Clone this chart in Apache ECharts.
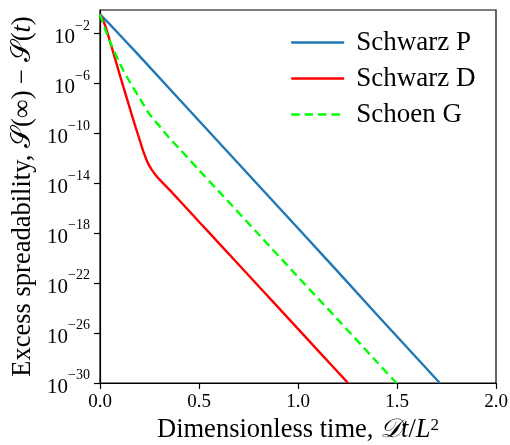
<!DOCTYPE html>
<html>
<head>
<meta charset="utf-8">
<script src="https://cdn.jsdelivr.net/npm/echarts@6/dist/echarts.min.js"></script>
<style>
  html, body { margin: 0; padding: 0; background: #fff; }
  #chart { width: 510px; height: 445px; }
</style>
</head>
<body>
<div id="chart"></div>
<script>
// Excess spreadability decay for three triply periodic minimal surfaces.
// Each curve is stored as [time, log10(value)] pairs.
const seriesNames = ['Schwarz P', 'Schwarz D', 'Schoen G'];

const schwarzP = [
  [0, -0.45], [0.05, -1.25], [0.1, -2.1], [0.2, -3.8], [0.4, -7.25],
  [0.6, -10.7], [0.8, -14.15], [1.0, -17.6], [1.2, -21.05], [1.4, -24.55],
  [1.6, -28.0], [1.716, -30.0]
];

const schwarzD = [
  [0, -0.45], [0.025, -1.3], [0.05, -2.6], [0.1, -5.3], [0.15, -7.95],
  [0.18, -9.5], [0.2, -10.5], [0.22, -11.5], [0.24, -12.3], [0.26, -12.88],
  [0.28, -13.3], [0.3, -13.68], [0.35, -14.5], [0.4, -15.35], [0.5, -17.07],
  [0.6, -18.79], [0.8, -22.22], [1.0, -25.66], [1.2, -29.1], [1.2525, -30.0]
];

const schoenG = [
  [0, -0.45], [0.025, -1.6], [0.05, -2.6], [0.1, -4.4], [0.15, -5.85],
  [0.2, -7.15], [0.25, -8.45], [0.3, -9.4], [0.35, -10.35], [0.4, -11.2],
  [0.5, -12.93], [0.6, -14.64], [0.8, -18.06], [1.0, -21.5], [1.2, -24.9],
  [1.4, -28.34], [1.497, -30.0]
];

const xTicks = [0, 0.5, 1.0, 1.5, 2.0];
const yTickExponents = [-30, -26, -22, -18, -14, -10, -6, -2];

const colors = ['#1f77b4', '#ff0000', '#00ff00'];
const FONT = '"Liberation Serif", "DejaVu Serif", serif';
const LINE_W = 2.4;

const toPoints = arr => arr.map(p => [p[0], Math.pow(10, p[1])]);
const yTickValues = yTickExponents.map(e => Math.pow(10, e));

const chart = echarts.init(document.getElementById('chart'), null, { renderer: 'canvas' });

const axisBlack = { lineStyle: { color: '#000', width: 1.2 } };

chart.setOption({
  animation: false,
  backgroundColor: '#fff',
  textStyle: { fontFamily: FONT },
  grid: {
    left: 100, right: 14, top: 10, bottom: 62,
    outerBoundsMode: 'none', containLabel: false,
    show: true, borderColor: '#000', borderWidth: 1.2, backgroundColor: 'transparent'
  },
  legend: {
    data: seriesNames,
    orient: 'vertical',
    left: 285, top: 24,
    itemWidth: 53, itemHeight: 14, itemGap: 9,
    itemStyle: { opacity: 0 },
    lineStyle: { width: LINE_W },
    textStyle: { fontFamily: FONT, fontSize: 27, color: '#000', padding: [0, 0, 0, 7] }
  },
  xAxis: {
    type: 'value',
    min: 0, max: 2, interval: 0.5,
    name: 'Dimensionless time, {i|𝒟t}/{i|L}{s|2}',
    nameLocation: 'middle', nameGap: 31,
    nameTextStyle: {
      fontFamily: FONT, fontSize: 26.5, color: '#000',
      rich: {
        i: { fontFamily: FONT, fontSize: 26.5, fontStyle: 'italic', color: '#000' },
        s: { fontFamily: FONT, fontSize: 17, color: '#000', verticalAlign: 'top', padding: [0, 0, 10, 0] }
      }
    },
    axisLine: axisBlack,
    axisTick: { show: true, inside: false, length: 6, lineStyle: { color: '#000', width: 1.2 }, customValues: xTicks },
    axisLabel: {
      customValues: xTicks,
      margin: 10, fontFamily: FONT, fontSize: 19, color: '#000',
      formatter: v => v.toFixed(1)
    },
    splitLine: { show: false }
  },
  yAxis: {
    type: 'log', logBase: 10,
    min: 1e-30, max: Math.pow(10, -0.1),
    name: 'Excess spreadability, 𝒮(∞) − 𝒮({i|t})',
    nameLocation: 'middle', nameGap: 61, nameRotate: 90,
    nameTextStyle: {
      fontFamily: FONT, fontSize: 26.5, color: '#000',
      rich: { i: { fontFamily: FONT, fontSize: 26.5, fontStyle: 'italic', color: '#000' } }
    },
    axisLine: axisBlack,
    axisTick: { show: true, inside: false, length: 6, lineStyle: { color: '#000', width: 1.2 }, customValues: yTickValues },
    axisLabel: {
      customValues: yTickValues,
      margin: 10, color: '#000',
      formatter: v => '{b|10}{s|−' + Math.abs(Math.round(Math.log10(v))) + '}',
      rich: {
        b: { fontFamily: FONT, fontSize: 21, color: '#000', padding: [8, 0, 0, 0] },
        s: { fontFamily: FONT, fontSize: 14, color: '#000', verticalAlign: 'top' }
      }
    },
    splitLine: { show: false }
  },
  series: [
    {
      name: seriesNames[0], type: 'line', data: toPoints(schwarzP),
      showSymbol: false, symbol: 'none', smooth: false, clip: true,
      lineStyle: { color: colors[0], width: LINE_W }, itemStyle: { color: colors[0] }
    },
    {
      name: seriesNames[1], type: 'line', data: toPoints(schwarzD),
      showSymbol: false, symbol: 'none', smooth: 0.3, clip: true,
      lineStyle: { color: colors[1], width: LINE_W }, itemStyle: { color: colors[1] }
    },
    {
      name: seriesNames[2], type: 'line', data: toPoints(schoenG),
      showSymbol: false, symbol: 'none', smooth: 0.3, clip: true,
      lineStyle: { color: colors[2], width: LINE_W, type: [8.5, 4.9] }, itemStyle: { color: colors[2] }
    }
  ]
});
</script>
</body>
</html>
